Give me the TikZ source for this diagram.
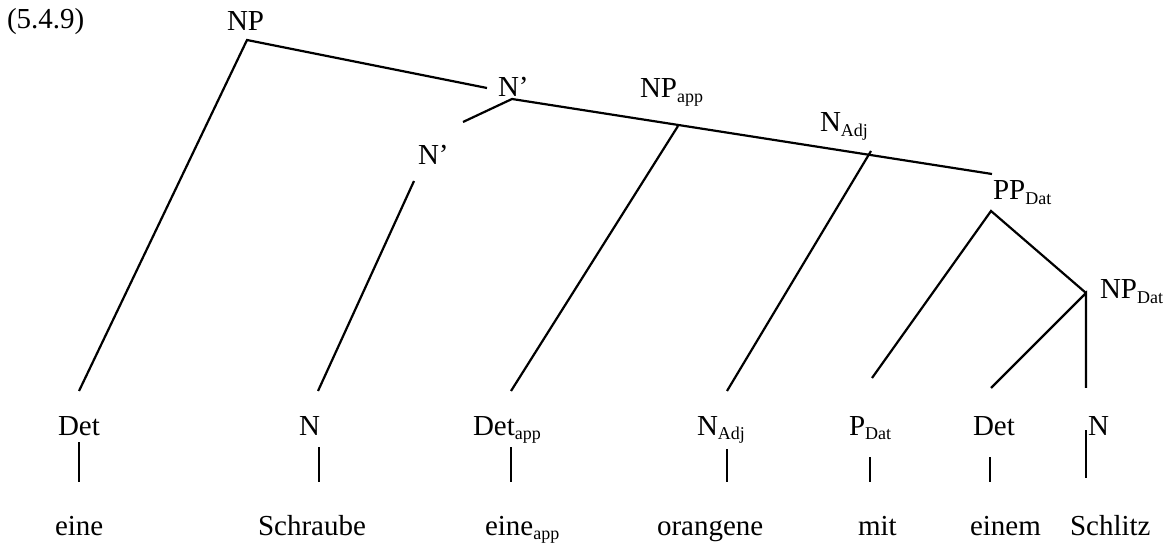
\documentclass[tikz,border=0pt]{standalone}
\usepackage{fontspec}
\setmainfont{Liberation Serif}
\newcommand\lsub[1]{\raisebox{-2.3pt}{\fontsize{9}{10}\selectfont #1}}
\begin{document}
\begin{tikzpicture}[x=0.5pt,y=-0.5pt,
  lbl/.style={anchor=base west, inner sep=0pt, outer sep=0pt, font=\fontsize{14.5}{17}\selectfont},
  edge/.style={line width=1.1pt}]
\useasboundingbox (0,0) rectangle (1170,544);
% labels
\node[lbl] (ex) at (7,29) {(5.4.9)};
\node[lbl] (np) at (227,31) {NP};
\node[lbl] (nbar1) at (498,97) {N’};
\node[lbl] (npapp) at (640,98) {NP\lsub{app}};
\node[lbl] (nadjT) at (820,132) {N\lsub{Adj}};
\node[lbl] (nbar2) at (418,165) {N’};
\node[lbl] (ppdat) at (993,200) {PP\lsub{Dat}};
\node[lbl] (npdat) at (1100,299) {NP\lsub{Dat}};
% preterminals
\node[lbl] (det1) at (58,435) {Det};
\node[lbl] (n1) at (299,435) {N};
\node[lbl] (detapp) at (473,435) {Det\lsub{app}};
\node[lbl] (nadj) at (697,435) {N\lsub{Adj}};
\node[lbl] (pdat) at (849,435) {P\lsub{Dat}};
\node[lbl] (det2) at (973,435) {Det};
\node[lbl] (n2) at (1088,435) {N};
% words
\node[lbl] (w1) at (55,535) {eine};
\node[lbl] (w2) at (258,535) {Schraube};
\node[lbl] (w3) at (485,535) {eine\lsub{app}};
\node[lbl] (w4) at (657,535) {orangene};
\node[lbl] (w5) at (858,535) {mit};
\node[lbl] (w6) at (970,535) {einem};
\node[lbl] (w7) at (1070,535) {Schlitz};
% line end points
\coordinate (npT) at (247,40);
\coordinate (npL) at (79,391);
\coordinate (npR) at (487,88);
\coordinate (n1T) at (512,99);
\coordinate (n1L) at (463,122);
\coordinate (n1R) at (992,174);
\coordinate (n2T) at (414,181);
\coordinate (n2B) at (318,391);
\coordinate (appT) at (678,126);
\coordinate (appB) at (511,391);
\coordinate (adjT) at (871,151);
\coordinate (adjB) at (727,391);
\coordinate (ppT) at (991,211);
\coordinate (ppL) at (872,378);
\coordinate (ndT) at (1086,293);
\coordinate (ndL) at (991,388);
\coordinate (ndB) at (1086,388);
\coordinate (v1a) at (79,442);  \coordinate (v1b) at (79,482);
\coordinate (v2a) at (319,447); \coordinate (v2b) at (319,482);
\coordinate (v3a) at (511,447); \coordinate (v3b) at (511,482);
\coordinate (v4a) at (727,449); \coordinate (v4b) at (727,482);
\coordinate (v5a) at (870,457); \coordinate (v5b) at (870,482);
\coordinate (v6a) at (990,457); \coordinate (v6b) at (990,482);
\coordinate (v7a) at (1086,430); \coordinate (v7b) at (1086,478);
% tree lines
\draw[edge] (npL) -- (npT) -- (npR);
\draw[edge] (n1L) -- (n1T) -- (n1R);
\draw[edge] (n2T) -- (n2B);
\draw[edge] (appT) -- (appB);
\draw[edge] (adjT) -- (adjB);
\draw[edge] (ppL) -- (ppT) -- (ndT);
\draw[edge] (ndL) -- (ndT) -- (ndB);
\draw[edge] (v1a) -- (v1b);
\draw[edge] (v2a) -- (v2b);
\draw[edge] (v3a) -- (v3b);
\draw[edge] (v4a) -- (v4b);
\draw[edge] (v5a) -- (v5b);
\draw[edge] (v6a) -- (v6b);
\draw[edge] (v7a) -- (v7b);
\end{tikzpicture}
\end{document}
